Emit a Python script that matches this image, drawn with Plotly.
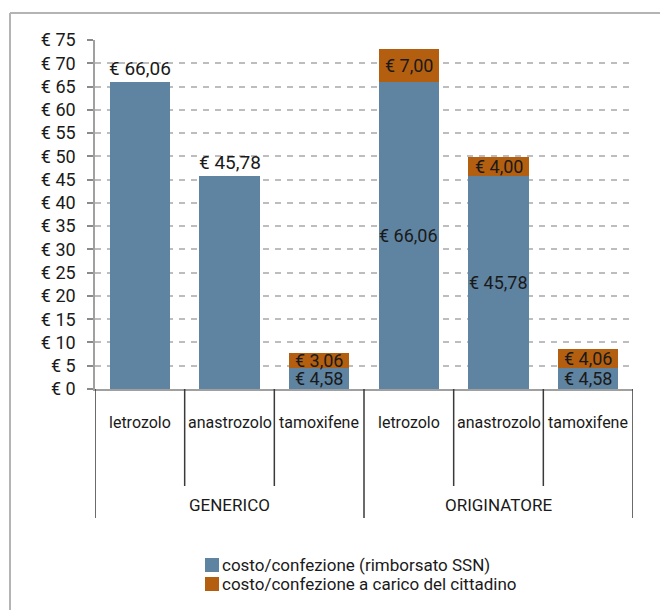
import plotly.graph_objects as go

# ---- data ----
groups = ["GENERICO", "GENERICO", "GENERICO", "ORIGINATORE", "ORIGINATORE", "ORIGINATORE"]
drugs = ["letrozolo", "anastrozolo", "tamoxifene", "letrozolo", "anastrozolo", "tamoxifene"]
ssn_values = [66.06, 45.78, 4.58, 66.06, 45.78, 4.58]
citizen_values = [0, 0, 3.06, 7.00, 4.00, 4.06]
ssn_labels = ["€ 66,06", "€ 45,78", "€ 4,58", "€ 66,06", "€ 45,78", "€ 4,58"]
citizen_labels = ["", "", "€ 3,06", "€ 7,00", "€ 4,00", "€ 4,06"]
series_names = ["costo/confezione (rimborsato SSN)", "costo/confezione a carico del cittadino"]
y_tick_values = [0, 5, 10, 15, 20, 25, 30, 35, 40, 45, 50, 55, 60, 65, 70, 75]
y_tick_labels = ["€ " + str(v) for v in y_tick_values]

# ---- style ----
FONT = "Roboto, sans-serif"
BLUE = "#5F84A2"
ORANGE = "#B45F10"
TXT = "#1a1a1a"

keys = [g + "|" + d for g, d in zip(groups, drugs)]

fig = go.Figure()
fig.add_trace(go.Bar(x=keys, y=ssn_values, name=series_names[0], marker=dict(color=BLUE, line=dict(width=0)),
                     showlegend=False, hoverinfo="y"))
fig.add_trace(go.Bar(x=keys, y=citizen_values, name=series_names[1], marker=dict(color=ORANGE, line=dict(width=0)),
                     showlegend=False, hoverinfo="y"))

annotations = []
# value labels
for k, b, o, bl, ol in zip(keys, ssn_values, citizen_values, ssn_labels, citizen_labels):
    if o == 0:
        annotations.append(dict(x=k, y=b, xref="x", yref="y", text=bl, showarrow=False,
                                yanchor="bottom", yshift=0, font=dict(family=FONT, size=19, color=TXT)))
    else:
        annotations.append(dict(x=k, y=b / 2, xref="x", yref="y", text=bl, showarrow=False,
                                yanchor="middle", borderpad=0, font=dict(family=FONT, size=18, color=TXT)))
        annotations.append(dict(x=k, y=b + o / 2, xref="x", yref="y", text=ol, showarrow=False,
                                yanchor="middle", borderpad=0, font=dict(family=FONT, size=18, color=TXT)))

# plot area geometry in px: x 95..633, y 40..389
PH = 349.0
PW = 538.0
def py(p):
    return (389 - p) / PH
def px(p):
    return (p - 95) / PW

# sub-category labels
for k, d in zip(keys, drugs):
    annotations.append(dict(x=k, y=py(422), xref="x", yref="paper", text=d, showarrow=False,
                            yanchor="middle", font=dict(family=FONT, size=16, color=TXT)))
# group labels
seen = []
for g in groups:
    if g not in seen:
        seen.append(g)
for g in seen:
    idx = [i for i, gg in enumerate(groups) if gg == g]
    annotations.append(dict(x=sum(idx) / len(idx), y=py(505), xref="x", yref="paper", text=g,
                            showarrow=False, yanchor="middle", font=dict(family=FONT, size=17, color=TXT)))

shapes = []
n = len(keys)
for i in range(n + 1):
    is_group = i == 0 or i == n or groups[i] != groups[i - 1]
    shapes.append(dict(type="line", xref="x", yref="paper", x0=i - 0.5, x1=i - 0.5, y0=0,
                       y1=py(518) if is_group else py(486), line=dict(color="#3a3a3a", width=1.5)))

# manual legend
legend_rows = [(series_names[0], BLUE, 565), (series_names[1], ORANGE, 584)]
for name, col, cy in legend_rows:
    shapes.append(dict(type="rect", xref="paper", yref="paper", x0=px(205), x1=px(219),
                       y0=py(cy + 7), y1=py(cy - 7), fillcolor=col, line=dict(width=0)))
    annotations.append(dict(x=px(220), y=py(cy), xref="paper", yref="paper", text=name, showarrow=False,
                            xanchor="left", yanchor="middle", font=dict(family=FONT, size=17, color=TXT)))

# outer frame (top and left)
shapes.append(dict(type="line", xref="paper", yref="paper", x0=px(10), x1=px(662), y0=py(13), y1=py(13),
                   line=dict(color="#B4B4B4", width=2)))
shapes.append(dict(type="line", xref="paper", yref="paper", x0=px(10), x1=px(10), y0=py(13), y1=py(612),
                   line=dict(color="#B4B4B4", width=2)))

fig.update_layout(
    width=660, height=610,
    margin=dict(l=95, r=27, t=40, b=221),
    barmode="stack", bargap=0.33,
    plot_bgcolor="white", paper_bgcolor="white",
    font=dict(family=FONT, size=18, color=TXT),
    showlegend=False,
    annotations=annotations,
    shapes=shapes,
    xaxis=dict(type="category", range=[-0.5, n - 0.5], showticklabels=False, ticks="",
               showgrid=False, zeroline=False, showline=True, linecolor="#A0A0A0", linewidth=1.5),
    yaxis=dict(range=[0, 75], tickvals=y_tick_values, ticktext=y_tick_labels, ticks="outside", ticklen=6,
               tickcolor="#8a8a8a", tickwidth=1.5, showline=True, linecolor="#A0A0A0", linewidth=1.5,
               showgrid=True, gridcolor="#BDBDBD", gridwidth=2, griddash="6px,6px", zeroline=False,
               tickfont=dict(family=FONT, size=18, color=TXT), ticklabelstandoff=8),
)

fig.write_html("out.html")
